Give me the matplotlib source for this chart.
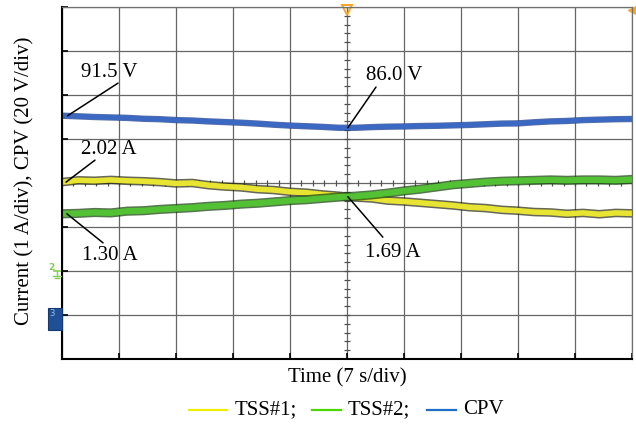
import numpy as np
import matplotlib
matplotlib.use("Agg")
import matplotlib.pyplot as plt
from matplotlib.lines import Line2D
from matplotlib.patches import Rectangle

plt.rcParams['font.family'] = ['Liberation Serif', 'DejaVu Serif']

# ---- recorded traces (sampled every 2 s over 10 divisions of 7 s) ----
time_s = np.arange(0, 71, 2)

tss1_A = [2.02, 2.06, 2.05, 2.07, 2.05, 2.04, 2.02, 1.99, 2.00, 1.95,
          1.92, 1.90, 1.86, 1.84, 1.80, 1.78, 1.74, 1.71, 1.67, 1.65,
          1.60, 1.58, 1.55, 1.52, 1.49, 1.45, 1.43, 1.39, 1.37, 1.34,
          1.33, 1.30, 1.32, 1.29, 1.32, 1.31]

tss2_A = [1.30, 1.31, 1.33, 1.32, 1.36, 1.37, 1.40, 1.42, 1.44, 1.47,
          1.49, 1.52, 1.54, 1.57, 1.60, 1.62, 1.65, 1.68, 1.70, 1.73,
          1.77, 1.82, 1.86, 1.91, 1.96, 1.99, 2.02, 2.04, 2.05, 2.06,
          2.07, 2.06, 2.07, 2.07, 2.06, 2.08]

cpv_V = [91.5, 91.2, 90.9, 90.7, 90.5, 90.1, 89.9, 89.5, 89.3, 88.9,
         88.6, 88.3, 87.9, 87.4, 87.0, 86.7, 86.4, 86.0, 86.0, 86.3,
         86.5, 86.6, 86.8, 86.9, 87.1, 87.3, 87.6, 87.9, 88.0, 88.5,
         88.9, 89.1, 89.5, 89.7, 89.9, 90.0]

series_names = ["TSS#1;", "TSS#2;", "CPV"]
legend_colors = ["#f0ee00", "#4cd600", "#1f6fc8"]

# scope channel settings: (volts or amps per division, ground level in divisions)
ch_scale = [1.0, 1.0, 20.0]
ch_ground = [2.0, 2.0, 0.955]

W, H = 636, 425


def to_div(values, ch):
    return ch_ground[ch] + np.asarray(values, dtype=float) / ch_scale[ch]


fig = plt.figure(figsize=(W / 100, H / 100), dpi=100)
ax = fig.add_axes([62 / W, 66 / H, 570 / W, 352 / H])
ax.set_xlim(0, 70)
ax.set_ylim(0, 8)
ax.set_xticks(np.arange(0, 71, 7))
ax.set_yticks(np.arange(0, 9, 1))
ax.grid(True, color='#666666', lw=0.9)
ax.set_axisbelow(True)
ax.tick_params(direction='in', length=4, width=1.2, labelbottom=False,
               labelleft=False, color='black')
for side in ('left', 'bottom'):
    ax.spines[side].set_color('black')
    ax.spines[side].set_linewidth(1.5)
for side in ('top', 'right'):
    ax.spines[side].set_color('#707070')
    ax.spines[side].set_linewidth(0.9)

# fine ticks on the centre cross-hair
ax.hlines(np.arange(0, 8.01, 0.2), 35 - 0.37, 35 + 0.37, color='#505050', lw=0.9)
ax.vlines(np.arange(0, 70.01, 1.4), 4 - 0.07, 4 + 0.07, color='#505050', lw=0.9)

# traces
y1 = to_div(tss1_A, 0)
y2 = to_div(tss2_A, 1)
y3 = to_div(cpv_V, 2)

ax.plot(time_s, y3, color='#1d3f8a', lw=4.6, alpha=0.75)
ax.plot(time_s, y3, color='#3a68c2', lw=3.4)

ax.plot(time_s, y1, color='#26260e', lw=6.2, alpha=0.7)
ax.plot(time_s, y1, color='#e8e432', lw=4.0)

ax.plot(time_s, y2, color='#1c4a10', lw=6.6, alpha=0.75)
ax.plot(time_s, y2, color='#52c234', lw=4.4)

# trigger markers
ax.plot(35, 7.93, marker='v', ms=7, mfc='none', mec='#f5a623', mew=1.4, clip_on=False)
ax.plot(70, 7.93, marker='<', ms=6, mfc='#f5a623', mec='#f5a623', clip_on=False)


# value call-outs
def callout(text, xy, text_xy, line_start):
    ax.annotate('', xy=xy, xytext=line_start,
                arrowprops=dict(arrowstyle='-', lw=1.1, color='black',
                                shrinkA=0, shrinkB=0))
    ax.text(text_xy[0], text_xy[1], text, ha='center', va='center',
            fontsize=15, color='black')


callout(f"{cpv_V[0]:.1f} V", (0.7, y3[0]), (5.83, 6.52), (6.88, 6.27))
callout(f"{tss1_A[0]:.2f} A", (0.5, y1[0]), (5.71, 4.75), (4.05, 4.52))
v_mid = np.interp(35, time_s, cpv_V)
callout(f"{v_mid:.1f} V", (35.1, to_div([v_mid], 2)[0]), (40.77, 6.45), (38.56, 6.18))
callout(f"{tss2_A[0]:.2f} A", (0.6, y2[0]), (5.9, 2.36), (5.04, 2.64))
i_mid = np.interp(35, time_s, tss2_A)
callout(f"{i_mid:.2f} A", (35.1, to_div([i_mid], 1)[0]), (40.6, 2.43), (39.4, 2.77))

# channel ground indicators
fig.text(51 / W, 1 - 267 / H, "2", color='#7fd14f', fontsize=6.5, ha='center', va='center',
         family='DejaVu Sans', weight='bold')
fig.add_artist(Line2D([54 / W, 60 / W], [1 - 271 / H, 1 - 271 / H], color='#7fd14f', lw=1.2))
fig.add_artist(Line2D([57 / W, 57 / W], [1 - 271 / H, 1 - 276 / H], color='#7fd14f', lw=1.0))
fig.add_artist(Line2D([53 / W, 61 / W], [1 - 276 / H, 1 - 276 / H], color='#7fd14f', lw=1.0))
fig.add_artist(Line2D([55 / W, 59 / W], [1 - 278 / H, 1 - 278 / H], color='#7fd14f', lw=1.0))
fig.add_artist(Rectangle((48 / W, 1 - 330 / H), 14 / W, 22 / H, transform=fig.transFigure,
                         facecolor='#1f4f94', edgecolor='#163a70', lw=0.8))
fig.text(52 / W, 1 - 314 / H, "3", color='#9fc0f0', fontsize=6, ha='center', va='center',
         family='DejaVu Sans')

# axis captions
fig.text(347 / W, 1 - 378 / H, "Time (7 s/div)", ha='center', va='center', fontsize=15)
fig.text(25 / W, 1 - 181 / H, "Current (1 A/div), CPV (20 V/div)", rotation=90,
         ha='center', va='center', fontsize=15)

# legend row
line_spans = [(189, 227), (312, 341), (427, 456)]
text_x = [235, 348, 463]
ly = 1 - 410 / H
for name, col, (x0, x1), tx in zip(series_names, legend_colors, line_spans, text_x):
    fig.add_artist(Line2D([x0 / W, x1 / W], [ly, ly], color=col, lw=1.6))
    fig.text(tx / W, ly, name, ha='left', va='center', fontsize=15)

fig.savefig("out.png", dpi=100)
